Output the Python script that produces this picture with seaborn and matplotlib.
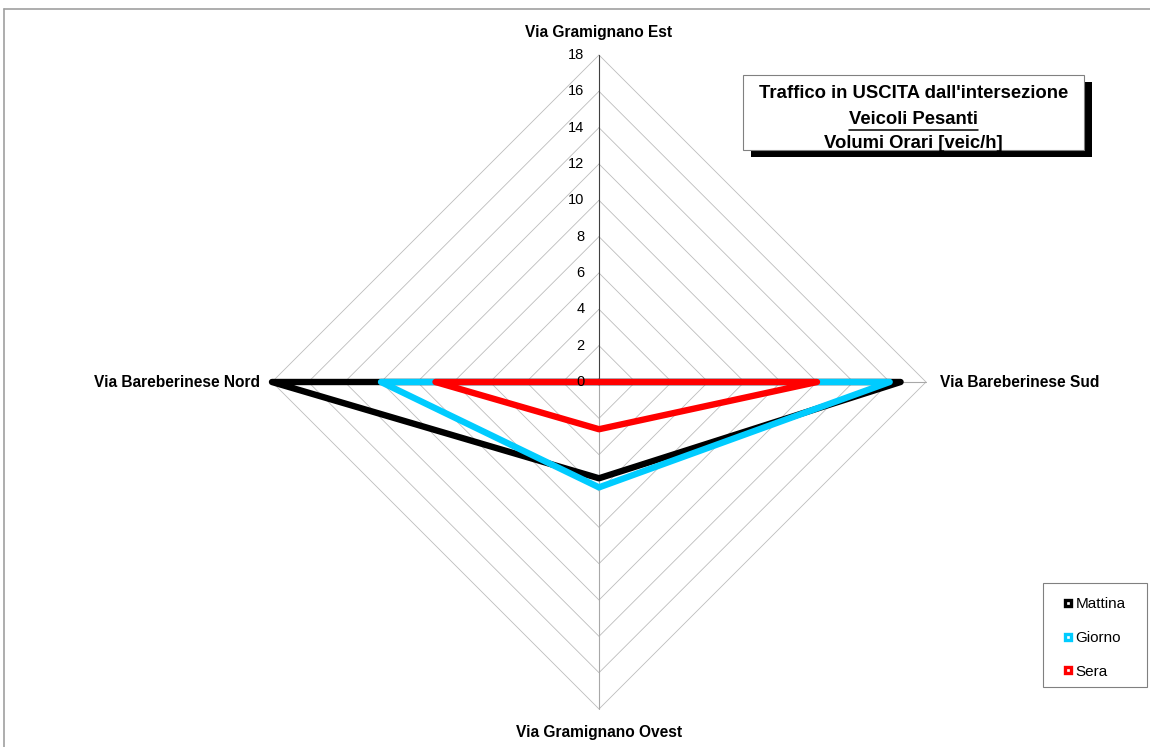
import numpy as np
import pandas as pd
import matplotlib.pyplot as plt
import seaborn as sns
from matplotlib.lines import Line2D
from matplotlib.patches import Rectangle

categories = ["Via Gramignano Est", "Via Bareberinese Sud",
              "Via Gramignano Ovest", "Via Bareberinese Nord"]
mattina = [0, 16.6, 5.3, 18]
giorno = [0, 16.0, 5.8, 12]
sera = [0, 12, 2.6, 9]
series_names = ["Mattina", "Giorno", "Sera"]
colors = ["#000000", "#00CCFF", "#FF0000"]
ticks = list(range(0, 19, 2))
rmax = 18

sns.set_theme(style="white")
plt.rcParams['font.family'] = ['Liberation Sans', 'DejaVu Sans']
plt.rcParams['text.color'] = 'black'

W, H = 1150, 747
fig = plt.figure(figsize=(W / 100, H / 100), dpi=100)
ax = fig.add_axes([0, 0, 1, 1])
s = 327 / rmax  # pixels per unit
ax.set_xlim(-599 / s, (W - 599) / s)
ax.set_ylim(-(H - 382) / s, 382 / s)
ax.axis("off")


def fx(px):
    return px / W


def fy(py):
    return 1 - py / H


angles = np.arange(len(categories)) * 2 * np.pi / len(categories)
dx, dy = np.round(np.sin(angles), 12), np.round(np.cos(angles), 12)

# diamond grid
for t in ticks[1:]:
    ax.plot(np.append(dx, dx[0]) * t, np.append(dy, dy[0]) * t,
            color="#bcbcbc", lw=0.6, zorder=1)

# spokes
for i in range(len(categories)):
    c = "#404040" if i == 0 else "#a8a8a8"
    ax.plot([0, dx[i] * rmax], [0, dy[i] * rmax], color=c, lw=0.8, zorder=2)

# series
rows = []
for name, vals in zip(series_names, [mattina, giorno, sera]):
    v = np.array(vals + vals[:1], dtype=float)
    for k, val in enumerate(v):
        i = k % len(categories)
        rows.append({"serie": name, "ord": k, "x": val * dx[i], "y": val * dy[i]})
df = pd.DataFrame(rows)

for name, col in zip(series_names, colors):
    sub = df[df["serie"] == name]
    sns.lineplot(data=sub, x="x", y="y", sort=False, estimator=None,
                 color=col, lw=4.6, ax=ax, legend=False, zorder=3)

# value tick labels
for t in ticks:
    ax.text(-0.8, t, str(t), ha="right", va="center", fontsize=10.5, color="black", zorder=4)

# category labels
lab_kw = dict(fontsize=11.2, fontweight="bold", color="black")
ax.text(0, (382 - 32) / s, categories[0], ha="center", va="center", **lab_kw)
ax.text((940 - 599) / s, 0, categories[1], ha="left", va="center", **lab_kw)
ax.text(0, (382 - 733) / s, categories[2], ha="center", va="center", **lab_kw)
ax.text((260 - 599) / s, 0, categories[3], ha="right", va="center", **lab_kw)

# outer frame (top and left edges visible)
fig.add_artist(Line2D([fx(4), fx(W)], [fy(9), fy(9)], color="#a0a0a0", lw=1.2))
fig.add_artist(Line2D([fx(4), fx(4)], [fy(9), 0], color="#a0a0a0", lw=1.2))

# title box with shadow
bx0, bx1, by0, by1 = 743, 1084, 75, 150
fig.add_artist(Rectangle((fx(bx0 + 8), fy(by1 + 7)), (bx1 - bx0) / W, (by1 - by0) / H,
                         transform=fig.transFigure, facecolor="black", edgecolor="none"))
fig.add_artist(Rectangle((fx(bx0), fy(by1)), (bx1 - bx0) / W, (by1 - by0) / H,
                         transform=fig.transFigure, facecolor="white",
                         edgecolor="#808080", lw=0.8))
cx = (bx0 + bx1) / 2
tkw = dict(ha="center", va="baseline", fontsize=13.3, fontweight="bold",
           color="black", transform=fig.transFigure)
fig.text(fx(cx), fy(98), "Traffico in USCITA dall'intersezione", **tkw)
t2 = fig.text(fx(cx), fy(124), "Veicoli Pesanti", **tkw)
fig.text(fx(cx), fy(147.5), "Volumi Orari [veic/h]", **tkw)
fig.canvas.draw()
bb = t2.get_window_extent()
fig.add_artist(Line2D([bb.x0 / W, bb.x1 / W], [fy(130), fy(130)], color="black", lw=1.1))

# legend
fig.add_artist(Rectangle((fx(1043), fy(687)), 104 / W, 104 / H,
                         transform=fig.transFigure, facecolor="white",
                         edgecolor="#808080", lw=0.8))
handles = [Line2D([], [], ls="none", marker="s", markersize=5, mew=2.4,
                  markerfacecolor="white", markeredgecolor=c) for c in colors]
fig.legend(handles, series_names, loc="upper left",
           bbox_to_anchor=(fx(1062), fy(597)), frameon=False, fontsize=11,
           handlelength=0.75, handletextpad=0.12, labelspacing=1.3,
           borderpad=0, borderaxespad=0)

fig.savefig("out.png", dpi=100)
